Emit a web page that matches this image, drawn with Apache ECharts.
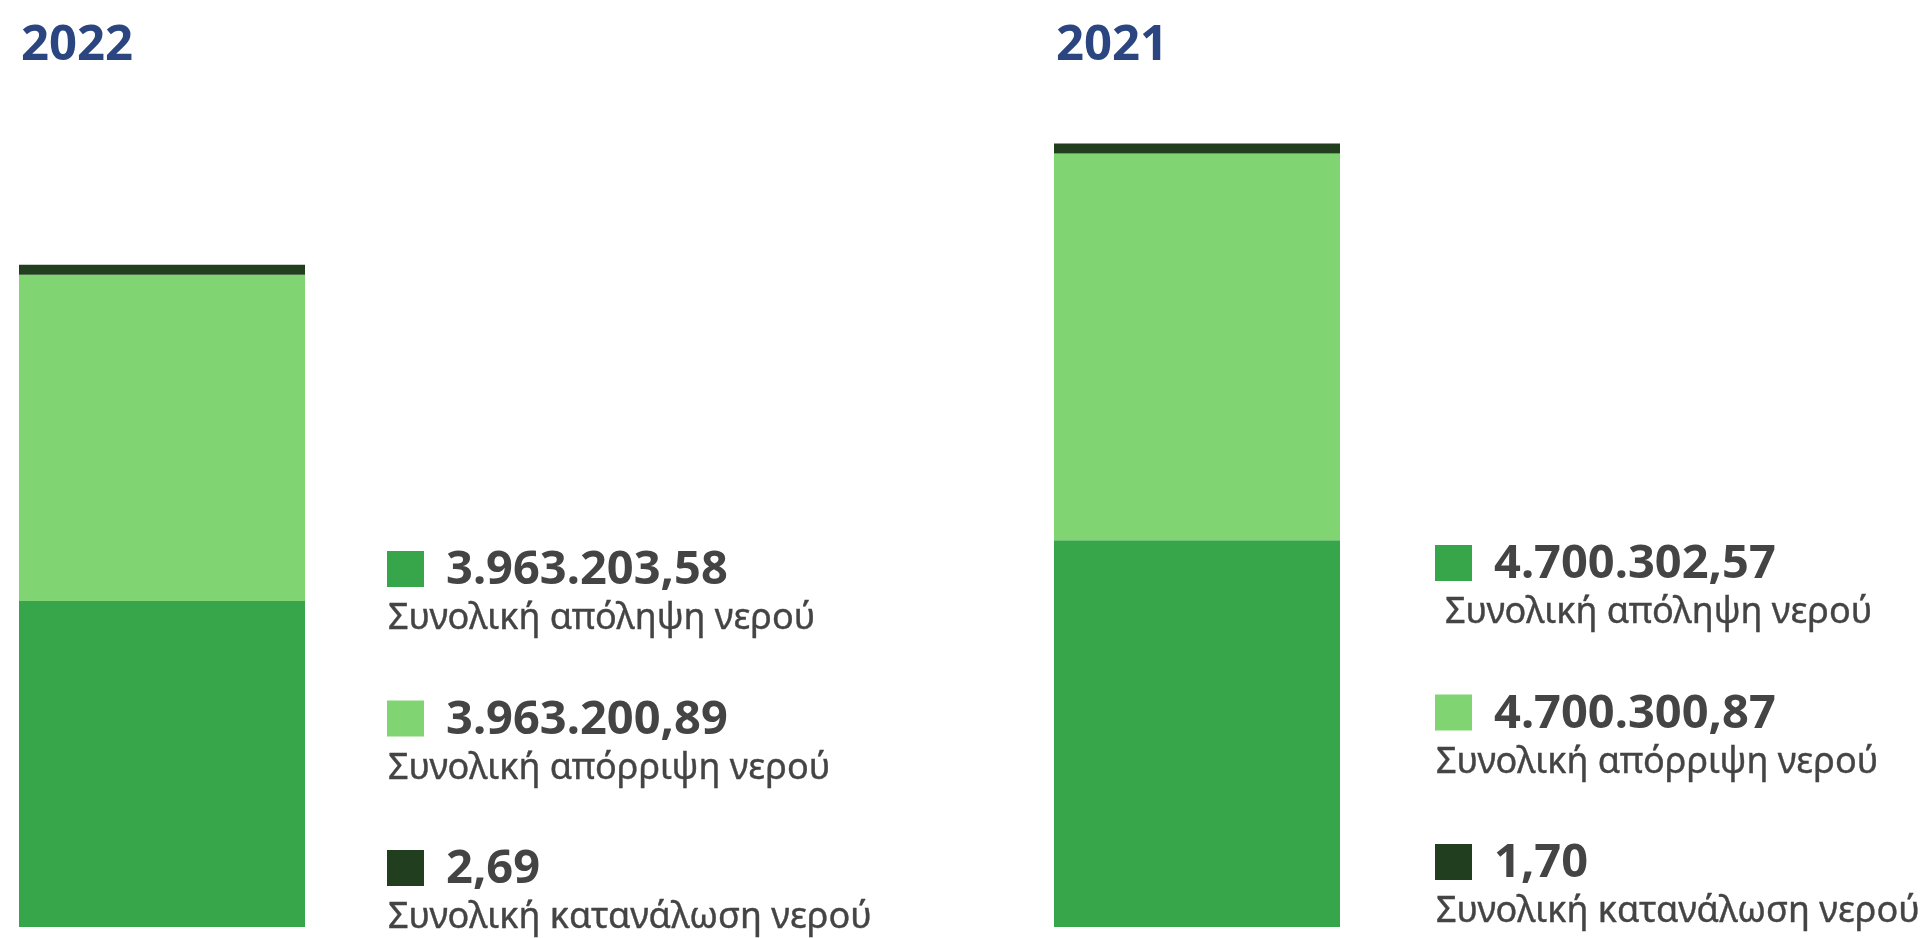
<!DOCTYPE html>
<html>
<head>
<meta charset="utf-8">
<script src="https://cdn.jsdelivr.net/npm/echarts@6/dist/echarts.min.js"></script>
<style>
  html, body { margin: 0; padding: 0; background: #ffffff; }
  #chart { width: 1931px; height: 938px; }
</style>
</head>
<body>
<div id="chart"></div>
<script>
// Water balance per year (m³)
const years = ['2022', '2021'];
const seriesNames = ['Συνολική απόληψη νερού', 'Συνολική απόρριψη νερού', 'Συνολική κατανάλωση νερού'];
const withdrawal = [3963203.58, 4700302.57];
const discharge = [3963200.89, 4700300.87];
const consumption = [2.69, 1.70];

const colors = ['#37a54a', '#80d572', '#213f1f'];
const textColor = '#444444';
const titleColor = '#2b4580';
const FONT = '"Noto Sans", "Open Sans", sans-serif';

// Greek number format: 3.963.203,58
function fmt(v) {
  const parts = v.toFixed(2).split('.');
  return parts[0].replace(/\B(?=(\d{3})+(?!\d))/g, '.') + ',' + parts[1];
}

// Per-year panel layout: bar grid and key block to its right
const panels = [
  { gridLeft: 19, keyLeft: 387, keyTop: 551, titleLeft: 21, indent: [0, 0, 0] },
  { gridLeft: 1054, keyLeft: 1435, keyTop: 545, titleLeft: 1056, indent: [9, 0, 0] }
];
const KEY_STEP = 149.5;

const valuesByYear = years.map((y, i) => [withdrawal[i], discharge[i], consumption[i]]);

const grid = panels.map(p => ({ left: p.gridLeft, width: 286, top: 22, bottom: 11 }));
const xAxis = panels.map((p, i) => ({
  type: 'category', gridIndex: i, data: [years[i]], show: false
}));
const yAxis = panels.map((p, i) => ({
  type: 'value', gridIndex: i, min: 0, max: 11000000, show: false
}));

const series = [];
years.forEach((y, i) => {
  seriesNames.forEach((name, k) => {
    series.push({
      name: name,
      type: 'bar',
      xAxisIndex: i,
      yAxisIndex: i,
      stack: 'year' + y,
      barWidth: '100%',
      barMinHeight: k === 2 ? 10 : 0,
      itemStyle: { color: colors[k] },
      data: [valuesByYear[i][k]],
      silent: true
    });
  });
});

const graphic = [];
panels.forEach((p, i) => {
  graphic.push({
    type: 'text',
    style: {
      x: p.titleLeft, y: 46, text: years[i],
      font: 'bold 49px ' + FONT, fill: titleColor,
      align: 'left', verticalAlign: 'middle'
    }
  });
  seriesNames.forEach((name, k) => {
    const top = p.keyTop + k * KEY_STEP;
    graphic.push({
      type: 'rect',
      shape: { x: p.keyLeft, y: top, width: 37, height: 36 },
      style: { fill: colors[k] }
    });
    graphic.push({
      type: 'text',
      style: {
        x: p.keyLeft + 59, y: top + 20, text: fmt(valuesByYear[i][k]),
        font: 'bold 47px ' + FONT, fill: textColor,
        align: 'left', verticalAlign: 'middle'
      }
    });
    graphic.push({
      type: 'text',
      style: {
        x: p.keyLeft + 1 + p.indent[k], y: top + 68, text: name,
        font: '36px ' + FONT, fill: textColor,
        stroke: textColor, lineWidth: 0.4,
        align: 'left', verticalAlign: 'middle'
      }
    });
  });
});

const chart = echarts.init(document.getElementById('chart'), null, { renderer: 'canvas' });
chart.setOption({
  animation: false,
  backgroundColor: '#ffffff',
  grid: grid,
  xAxis: xAxis,
  yAxis: yAxis,
  series: series,
  graphic: graphic
});
</script>
</body>
</html>
